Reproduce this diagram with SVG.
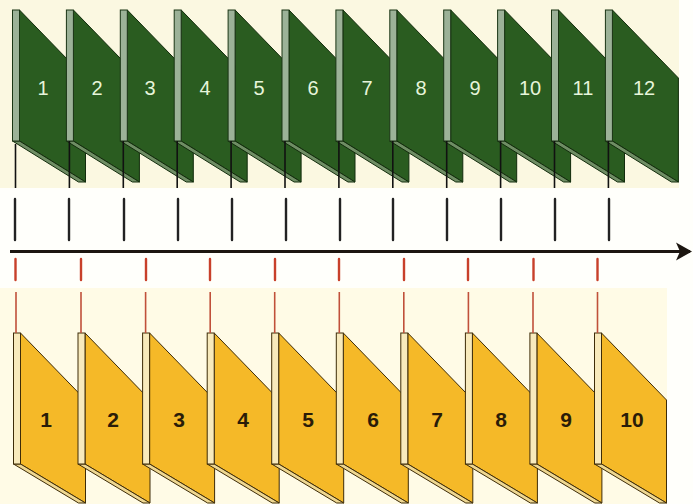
<svg xmlns="http://www.w3.org/2000/svg" xmlns:xlink="http://www.w3.org/1999/xlink" width="693" height="504" viewBox="0 0 693 504">
<style>
.gface{fill:#2a5c20;stroke:#122c0c;stroke-width:1}
.gband{fill:#6f8d64;stroke:#122c0c;stroke-width:1}
.gstrip{fill:#9cb298;stroke:#1a3514;stroke-width:1}
.yface{fill:#f5b928;stroke:#3e2c08;stroke-width:1}
.yband{fill:#eed792;stroke:#3e2c08;stroke-width:1}
.ystrip{fill:#f8eabc;stroke:#3e2c08;stroke-width:1}
.gnum{font-family:"Liberation Sans",Arial,sans-serif;font-size:20px;fill:#e6f5da;text-anchor:middle}
.ynum{font-family:"Liberation Sans",Arial,sans-serif;font-size:21px;font-weight:bold;fill:#2a1c08;text-anchor:middle}
.gstem{stroke:#111;stroke-width:1.6}
.btick{stroke:#222;stroke-width:2.4;stroke-linecap:round}
.rtick{stroke:#c8402a;stroke-width:2.4;stroke-linecap:round}
.rstem{stroke:#c0503a;stroke-width:1.6}
.axis{stroke:#1c1610;stroke-width:3}
</style>
<defs>
<g id="gp">
<polygon class="gface" points="7,10 73,78 73,182 7,141"/>
<polygon class="gband" points="0,141 7,141 73,182 66,182"/>
<rect class="gstrip" x="0" y="10" width="7" height="131"/>
</g>
<g id="yp">
<polygon class="yface" points="7,333 72,400 72,503 7,464"/>
<polygon class="yband" points="0,464 7,464 72,503 65,503"/>
<rect class="ystrip" x="0" y="333" width="7" height="131"/>
</g>
<marker id="arr" viewBox="0 0 16 20" refX="14" refY="10" markerWidth="16" markerHeight="20" markerUnits="userSpaceOnUse" orient="auto">
<path d="M0,1 L16,10 L0,19 L4,10 Z" fill="#1c1610"/>
</marker>
</defs>
<rect x="0" y="0" width="693" height="504" fill="#fffffb"/>
<rect x="0" y="0" width="679" height="188" fill="#fbf8e1"/>
<rect x="0" y="288" width="667" height="216" fill="#fffbe6"/>

<g id="green-1"><use xlink:href="#gp" transform="translate(12.5,0)"/><text class="gnum" x="43" y="95">1</text></g>
<g id="green-2"><use xlink:href="#gp" transform="translate(66.4,0)"/><text class="gnum" x="97" y="95">2</text></g>
<g id="green-3"><use xlink:href="#gp" transform="translate(120.3,0)"/><text class="gnum" x="150" y="95">3</text></g>
<g id="green-4"><use xlink:href="#gp" transform="translate(174.2,0)"/><text class="gnum" x="205" y="95">4</text></g>
<g id="green-5"><use xlink:href="#gp" transform="translate(228.1,0)"/><text class="gnum" x="259" y="95">5</text></g>
<g id="green-6"><use xlink:href="#gp" transform="translate(282,0)"/><text class="gnum" x="313" y="95">6</text></g>
<g id="green-7"><use xlink:href="#gp" transform="translate(335.9,0)"/><text class="gnum" x="367" y="95">7</text></g>
<g id="green-8"><use xlink:href="#gp" transform="translate(389.8,0)"/><text class="gnum" x="421" y="95">8</text></g>
<g id="green-9"><use xlink:href="#gp" transform="translate(443.7,0)"/><text class="gnum" x="475" y="95">9</text></g>
<g id="green-10"><use xlink:href="#gp" transform="translate(497.6,0)"/><text class="gnum" x="530" y="95">10</text></g>
<g id="green-11"><use xlink:href="#gp" transform="translate(551.5,0)"/><text class="gnum" x="583" y="95">11</text></g>
<g id="green-12"><use xlink:href="#gp" transform="translate(605.4,0)"/><text class="gnum" x="644" y="95">12</text></g>

<g id="yellow-1"><use xlink:href="#yp" transform="translate(13.5,0)"/><text class="ynum" x="46" y="427">1</text></g>
<g id="yellow-2"><use xlink:href="#yp" transform="translate(78,0)"/><text class="ynum" x="113" y="427">2</text></g>
<g id="yellow-3"><use xlink:href="#yp" transform="translate(142.6,0)"/><text class="ynum" x="179" y="427">3</text></g>
<g id="yellow-4"><use xlink:href="#yp" transform="translate(207.2,0)"/><text class="ynum" x="243" y="427">4</text></g>
<g id="yellow-5"><use xlink:href="#yp" transform="translate(271.7,0)"/><text class="ynum" x="308" y="427">5</text></g>
<g id="yellow-6"><use xlink:href="#yp" transform="translate(336.3,0)"/><text class="ynum" x="373" y="427">6</text></g>
<g id="yellow-7"><use xlink:href="#yp" transform="translate(400.8,0)"/><text class="ynum" x="437" y="427">7</text></g>
<g id="yellow-8"><use xlink:href="#yp" transform="translate(465.4,0)"/><text class="ynum" x="501" y="427">8</text></g>
<g id="yellow-9"><use xlink:href="#yp" transform="translate(529.9,0)"/><text class="ynum" x="566" y="427">9</text></g>
<g id="yellow-10"><use xlink:href="#yp" transform="translate(594.5,0)"/><text class="ynum" x="632" y="427">10</text></g>

<g id="connectors">
<g id="green-stems">
<line class="gstem" x1="15.5" y1="144" x2="15.5" y2="188"/>
<line class="gstem" x1="69.4" y1="141" x2="69.4" y2="188"/>
<line class="gstem" x1="123.3" y1="141" x2="123.3" y2="188"/>
<line class="gstem" x1="177.2" y1="141" x2="177.2" y2="188"/>
<line class="gstem" x1="231.1" y1="141" x2="231.1" y2="188"/>
<line class="gstem" x1="285" y1="141" x2="285" y2="188"/>
<line class="gstem" x1="338.9" y1="141" x2="338.9" y2="188"/>
<line class="gstem" x1="392.8" y1="141" x2="392.8" y2="188"/>
<line class="gstem" x1="446.7" y1="141" x2="446.7" y2="188"/>
<line class="gstem" x1="500.6" y1="141" x2="500.6" y2="188"/>
<line class="gstem" x1="554.5" y1="141" x2="554.5" y2="188"/>
<line class="gstem" x1="608.4" y1="141" x2="608.4" y2="188"/>
</g>
<g id="black-ticks">
<line class="btick" x1="15" y1="199" x2="15" y2="240"/>
<line class="btick" x1="69" y1="199" x2="69" y2="240"/>
<line class="btick" x1="124" y1="199" x2="124" y2="240"/>
<line class="btick" x1="178" y1="199" x2="178" y2="240"/>
<line class="btick" x1="232" y1="199" x2="232" y2="240"/>
<line class="btick" x1="286" y1="199" x2="286" y2="240"/>
<line class="btick" x1="340" y1="199" x2="340" y2="240"/>
<line class="btick" x1="393" y1="199" x2="393" y2="240"/>
<line class="btick" x1="447" y1="199" x2="447" y2="240"/>
<line class="btick" x1="501" y1="199" x2="501" y2="240"/>
<line class="btick" x1="555" y1="199" x2="555" y2="240"/>
<line class="btick" x1="609" y1="199" x2="609" y2="240"/>
</g>
<line id="axis" class="axis" x1="10" y1="251.5" x2="690" y2="251.5" marker-end="url(#arr)"/>
<g id="red-ticks">
<line class="rtick" x1="15.5" y1="259" x2="15.5" y2="280"/>
<line class="rtick" x1="81" y1="259" x2="81" y2="280"/>
<line class="rtick" x1="146" y1="259" x2="146" y2="280"/>
<line class="rtick" x1="210" y1="259" x2="210" y2="280"/>
<line class="rtick" x1="275" y1="259" x2="275" y2="280"/>
<line class="rtick" x1="339" y1="259" x2="339" y2="280"/>
<line class="rtick" x1="404" y1="259" x2="404" y2="280"/>
<line class="rtick" x1="468" y1="259" x2="468" y2="280"/>
<line class="rtick" x1="533.5" y1="259" x2="533.5" y2="280"/>
<line class="rtick" x1="597.5" y1="259" x2="597.5" y2="280"/>
</g>
<g id="red-stems">
<line class="rstem" x1="16" y1="292" x2="16" y2="333"/>
<line class="rstem" x1="81" y1="292" x2="81" y2="333"/>
<line class="rstem" x1="145.6" y1="292" x2="145.6" y2="333"/>
<line class="rstem" x1="210.2" y1="292" x2="210.2" y2="333"/>
<line class="rstem" x1="274.7" y1="292" x2="274.7" y2="333"/>
<line class="rstem" x1="339.3" y1="292" x2="339.3" y2="333"/>
<line class="rstem" x1="403.8" y1="292" x2="403.8" y2="333"/>
<line class="rstem" x1="468.4" y1="292" x2="468.4" y2="333"/>
<line class="rstem" x1="533" y1="292" x2="533" y2="333"/>
<line class="rstem" x1="597.5" y1="292" x2="597.5" y2="333"/>
</g>
</g>
</svg>
